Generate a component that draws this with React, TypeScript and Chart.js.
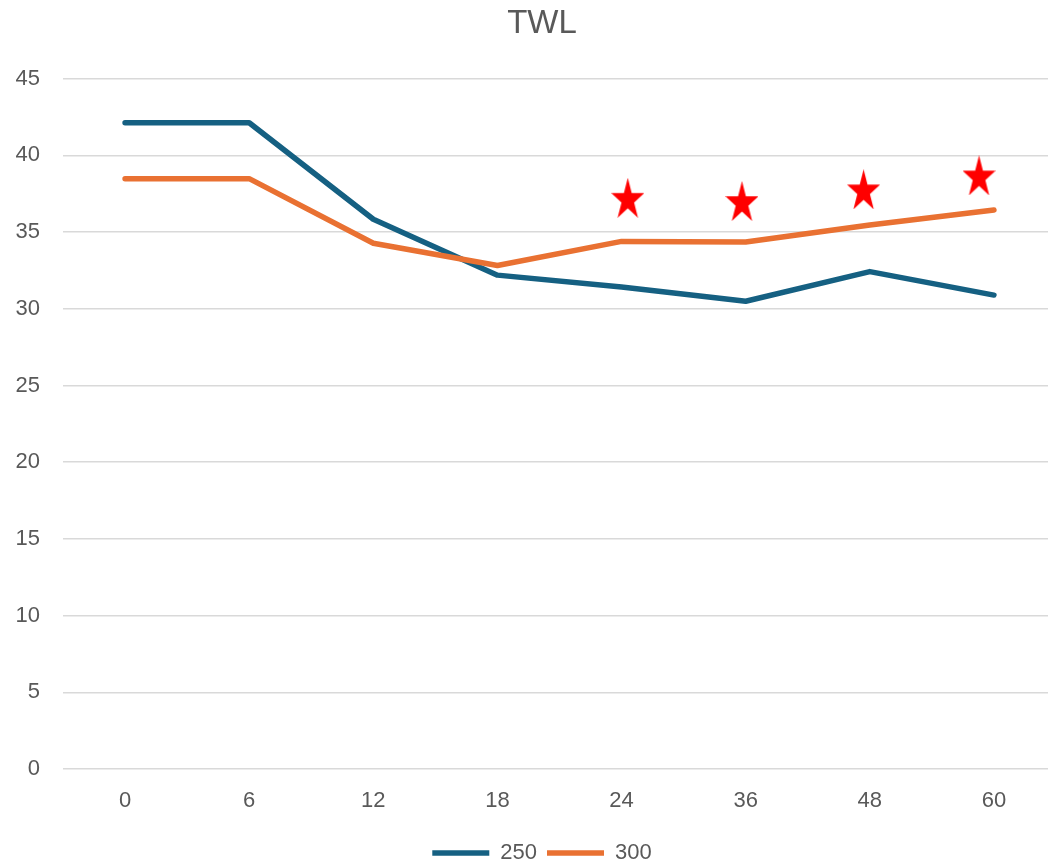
import React, { useEffect, useRef } from 'react';
import { Chart, registerables } from 'chart.js';

Chart.register(...registerables);

const categories = ['0', '6', '12', '18', '24', '36', '48', '60'];
const series250 = [42.12, 42.12, 35.83, 32.19, 31.42, 30.49, 32.42, 30.89];
const series300 = [38.48, 38.48, 34.27, 32.82, 34.39, 34.35, 35.46, 36.44];
const starX = [4.05, 4.97, 5.95, 6.88];
const starY = [37.23, 37.02, 37.78, 38.69];
const yMin = 0;
const yMax = 45;
const yStep = 5;

const FONT = "'Liberation Sans', Arial, sans-serif";
const TEXT = '#595959';

function makeStar(w: number, h: number, color: string): HTMLCanvasElement {
  const c = document.createElement('canvas');
  c.width = w;
  c.height = h;
  const ctx = c.getContext('2d')!;
  const rx = w / 2 / Math.sin((72 * Math.PI) / 180);
  const ry = h / (1 + Math.cos((36 * Math.PI) / 180));
  const cx = w / 2;
  const cy = ry;
  const inner = 0.382;
  ctx.beginPath();
  for (let k = 0; k < 10; k++) {
    const a = -Math.PI / 2 + (k * Math.PI) / 5;
    const r = k % 2 ? inner : 1;
    const x = cx + r * rx * Math.cos(a);
    const y = cy + r * ry * Math.sin(a);
    if (k === 0) ctx.moveTo(x, y);
    else ctx.lineTo(x, y);
  }
  ctx.closePath();
  ctx.fillStyle = color;
  ctx.fill();
  return c;
}

export default function App() {
  const ref = useRef<HTMLCanvasElement>(null);

  useEffect(() => {
    if (!ref.current) return;
    const star = makeStar(33, 40, '#FF0000');
    const chart = new Chart(ref.current, {
      type: 'line',
      data: {
        labels: categories,
        datasets: [
          {
            label: '250',
            data: series250,
            borderColor: '#156082',
            backgroundColor: '#156082',
            borderWidth: 5.5,
            borderCapStyle: 'round',
            borderJoinStyle: 'round',
            pointRadius: 0,
            tension: 0,
            order: 2,
          },
          {
            label: '300',
            data: series300,
            borderColor: '#E97132',
            backgroundColor: '#E97132',
            borderWidth: 5.5,
            borderCapStyle: 'round',
            borderJoinStyle: 'round',
            pointRadius: 0,
            tension: 0,
            order: 1,
          },
          {
            type: 'scatter',
            label: 'stars',
            data: starX.map((x, i) => ({ x, y: starY[i] })),
            xAxisID: 'x2',
            pointStyle: star as any,
            pointRadius: 17,
            showLine: false,
            order: 0,
          } as any,
        ],
      },
      options: {
        animation: false,
        responsive: false,
        layout: { padding: { left: 0, right: 0, top: 0, bottom: 0 } },
        plugins: {
          title: {
            display: true,
            text: 'TWL',
            color: TEXT,
            font: { family: FONT, size: 33, weight: 'normal' },
            padding: { top: 4, bottom: 35 },
          },
          legend: {
            position: 'bottom',
            labels: {
              usePointStyle: true,
              pointStyle: 'line',
              pointStyleWidth: 57,
              color: TEXT,
              font: { family: FONT, size: 22 },
              padding: 10,
              filter: (item: any) => item.datasetIndex < 2,
              sort: (a: any, b: any) => a.datasetIndex - b.datasetIndex,
            },
          },
          tooltip: { enabled: false },
        },
        scales: {
          x: {
            type: 'category',
            offset: true,
            grid: { display: false },
            border: { display: false },
            ticks: { color: TEXT, font: { family: FONT, size: 22 }, padding: 11 },
            afterFit: (s: any) => {
              s.height = 63;
            },
          },
          x2: {
            type: 'linear',
            display: false,
            min: -0.5,
            max: categories.length - 0.5,
          },
          y: {
            min: yMin,
            max: yMax,
            ticks: {
              stepSize: yStep,
              color: TEXT,
              font: { family: FONT, size: 22 },
              padding: 23,
            },
            grid: { color: '#d9d9d9', lineWidth: 1.5, drawTicks: false },
            border: { display: false },
            afterFit: (s: any) => {
              s.width = 63;
            },
          },
          yR: {
            type: 'linear',
            position: 'right',
            display: true,
            grid: { display: false, drawTicks: false },
            border: { display: false },
            ticks: { display: false },
            afterFit: (s: any) => {
              s.width = 28;
            },
          },
        },
      } as any,
    });
    return () => chart.destroy();
  }, []);

  return (
    <div
      style={{
        position: 'fixed',
        left: 0,
        top: 0,
        width: 1048,
        height: 866,
        overflow: 'hidden',
        background: '#fff',
      }}
    >
      <canvas ref={ref} width={1084} height={874} style={{ display: 'block' }} />
    </div>
  );
}
